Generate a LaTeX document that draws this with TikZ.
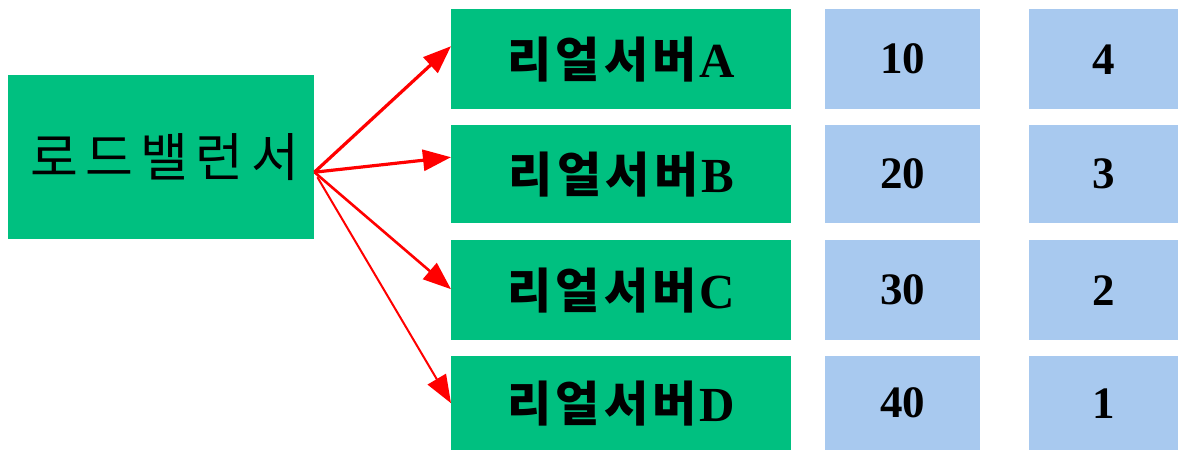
\documentclass[tikz,border=0pt]{standalone}
\usepackage{fontspec}
\setmainfont{Liberation Serif}
\newfontfamily\krlb[LetterSpace=14]{Noto Sans CJK KR}
\newfontfamily\krsv[LetterSpace=9]{Noto Sans CJK KR}
\usetikzlibrary{arrows.meta}
\definecolor{boxgreen}{RGB}{0,192,128}
\definecolor{boxblue}{RGB}{168,201,239}
\tikzset{
  gbox/.style={fill=boxgreen, draw=none, inner sep=0pt, anchor=north west},
  bbox/.style={fill=boxblue, draw=none, inner sep=0pt, anchor=north west, font=\fontsize{45}{48}\selectfont\bfseries},
  conn/.style={draw=red, line width=3.2pt, -{Triangle[length=28pt,width=21pt]}},
}
\newcommand{\srv}[1]{{\krsv\fontsize{48}{50}\selectfont\bfseries 리얼서버}\kern3pt{\fontsize{49}{50}\selectfont\bfseries #1}}
\begin{document}
\begin{tikzpicture}[x=1pt,y=-1pt]
\useasboundingbox (0,0) rectangle (1178,450);
\node[gbox, minimum width=306pt, minimum height=164pt] (lb) at (8,75) {\krlb\fontsize{52}{56}\selectfont 로드밸런서\kern-7pt};
\node[gbox, minimum width=340pt, minimum height=100pt] (sA) at (451,9) {\srv{A}};
\node[gbox, minimum width=340pt, minimum height=98pt] (sB) at (451,125) {\srv{B}};
\node[gbox, minimum width=340pt, minimum height=100pt] (sC) at (451,240) {\srv{C}};
\node[gbox, minimum width=340pt, minimum height=94pt] (sD) at (451,356) {\srv{D}};
\node[bbox, minimum width=155pt, minimum height=100pt] (wA) at (825,9) {10};
\node[bbox, minimum width=155pt, minimum height=98pt] (wB) at (825,125) {20};
\node[bbox, minimum width=155pt, minimum height=100pt] (wC) at (825,240) {30};
\node[bbox, minimum width=155pt, minimum height=94pt] (wD) at (825,356) {40};
\node[bbox, minimum width=149pt, minimum height=100pt] (rA) at (1029,9) {4};
\node[bbox, minimum width=149pt, minimum height=98pt] (rB) at (1029,125) {3};
\node[bbox, minimum width=149pt, minimum height=100pt] (rC) at (1029,240) {2};
\node[bbox, minimum width=149pt, minimum height=94pt] (rD) at (1029,356) {1};
\coordinate (src) at ([yshift=-15pt]lb.east);
\draw[conn] (src) -- ([yshift=13pt]sA.west);
\draw[conn] (src) -- ([yshift=17pt]sB.west);
\draw[conn, line width=2.6pt] (src) -- ([yshift=1pt]sC.west);
\draw[conn, line width=2pt] ([shift={(3pt,-5pt)}]src) -- ([yshift=0pt]sD.west);
\end{tikzpicture}
\end{document}
